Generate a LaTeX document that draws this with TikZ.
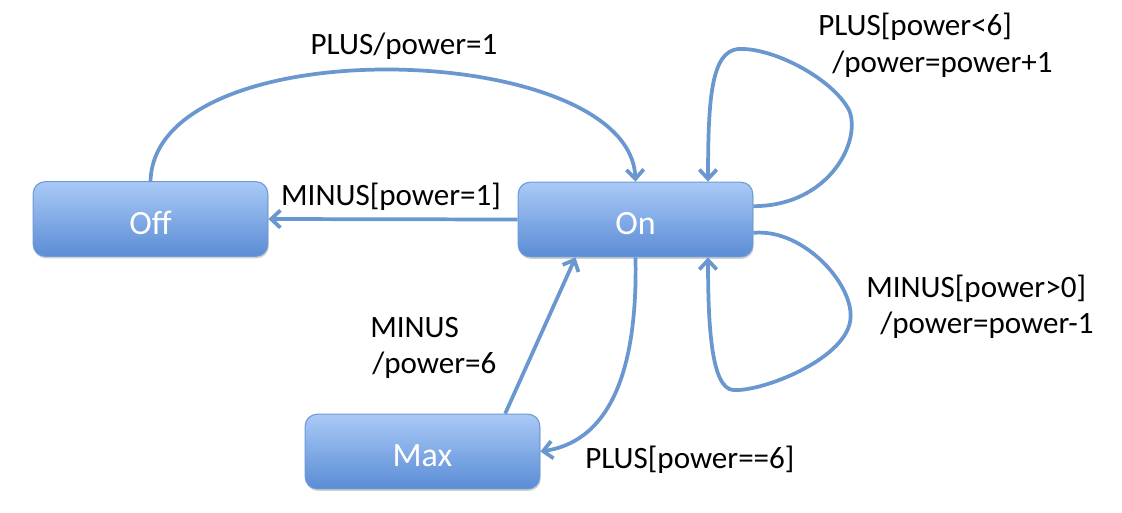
\documentclass[tikz,border=0pt]{standalone}
\usepackage{fontspec}
\setmainfont{Carlito}
\usetikzlibrary{arrows.meta,shadows}
\definecolor{boxtop}{HTML}{AACAF7}
\definecolor{boxbot}{HTML}{5A8CD5}
\definecolor{boxline}{HTML}{6D99D6}
\definecolor{edgecol}{HTML}{6A97D0}
\begin{document}
\begin{tikzpicture}[x=0.75pt,y=-0.75pt,
  state/.style={rounded corners=9pt, draw=boxline, line width=0.8pt,
    top color=boxtop, bottom color=boxbot, minimum width=176pt, minimum height=56pt,
    text=white, font=\fontsize{25.5}{30}\selectfont, inner sep=0pt,
    text height=23pt, text depth=0pt,
    drop shadow={shadow xshift=0.6pt, shadow yshift=-1.6pt, opacity=0.25, fill=black!70}},
  trans/.style={draw=edgecol, line width=2.8pt, -{Straight Barb[length=7pt,width=13pt]}},
  lbl/.style={font=\fontsize{23.3}{28}\selectfont, text=black, inner sep=0pt}
]
\useasboundingbox (0,0) rectangle (1122,512);

\node[state] (Off) at (150.5,219) {Off};
\node[state] (On)  at (635.5,219.5) {On};
\node[state] (Max) at (422.5,451.5) {Max};

% Off -> On
\draw[trans] (Off.north) .. controls (155,26) and (630,40) .. (On.north);
% On -> Off
\draw[trans] (On.west) -- (Off.east);
% top self loop
\draw[trans] ([yshift=10pt]On.east) .. controls (830,206) and (862,140) .. (849,110)
  .. controls (832,78) and (772,47) .. (738,49)
  .. controls (712,52) and (708,95) .. ([xshift=54.4pt]On.north);
% bottom self loop
\draw[trans] ([yshift=-10pt]On.east) .. controls (805,228) and (857,288) .. (850,322)
  .. controls (843,360) and (762,392) .. (733,390)
  .. controls (712,388) and (708,330) .. ([xshift=54.4pt]On.south);
% Max -> On
\draw[trans] ([xshift=62pt]Max.north) -- ([xshift=-45pt]On.south);
% On -> Max
\draw[trans] (On.south) .. controls (638,380) and (605,442) .. (Max.east);

% labels
\node[lbl, anchor=base] (l1) at (404,54) {PLUS/power=1};
\node[lbl, anchor=base] (l2) at (391,205) {MINUS[power=1]};
\node[lbl, anchor=base west] (l3a) at (818,35) {PLUS[power<6]};
\node[lbl, anchor=base west] (l3b) at (832,72) {/power=power+1};
\node[lbl, anchor=base west] (l4a) at (866,297) {MINUS[power>0]};
\node[lbl, anchor=base west] (l4b) at (880,333) {/power=power-1};
\node[lbl, anchor=base west] (l5a) at (370,337) {MINUS};
\node[lbl, anchor=base west] (l5b) at (372,373) {/power=6};
\node[lbl, anchor=base west] (l6) at (585,468) {PLUS[power==6]};
\end{tikzpicture}
\end{document}
